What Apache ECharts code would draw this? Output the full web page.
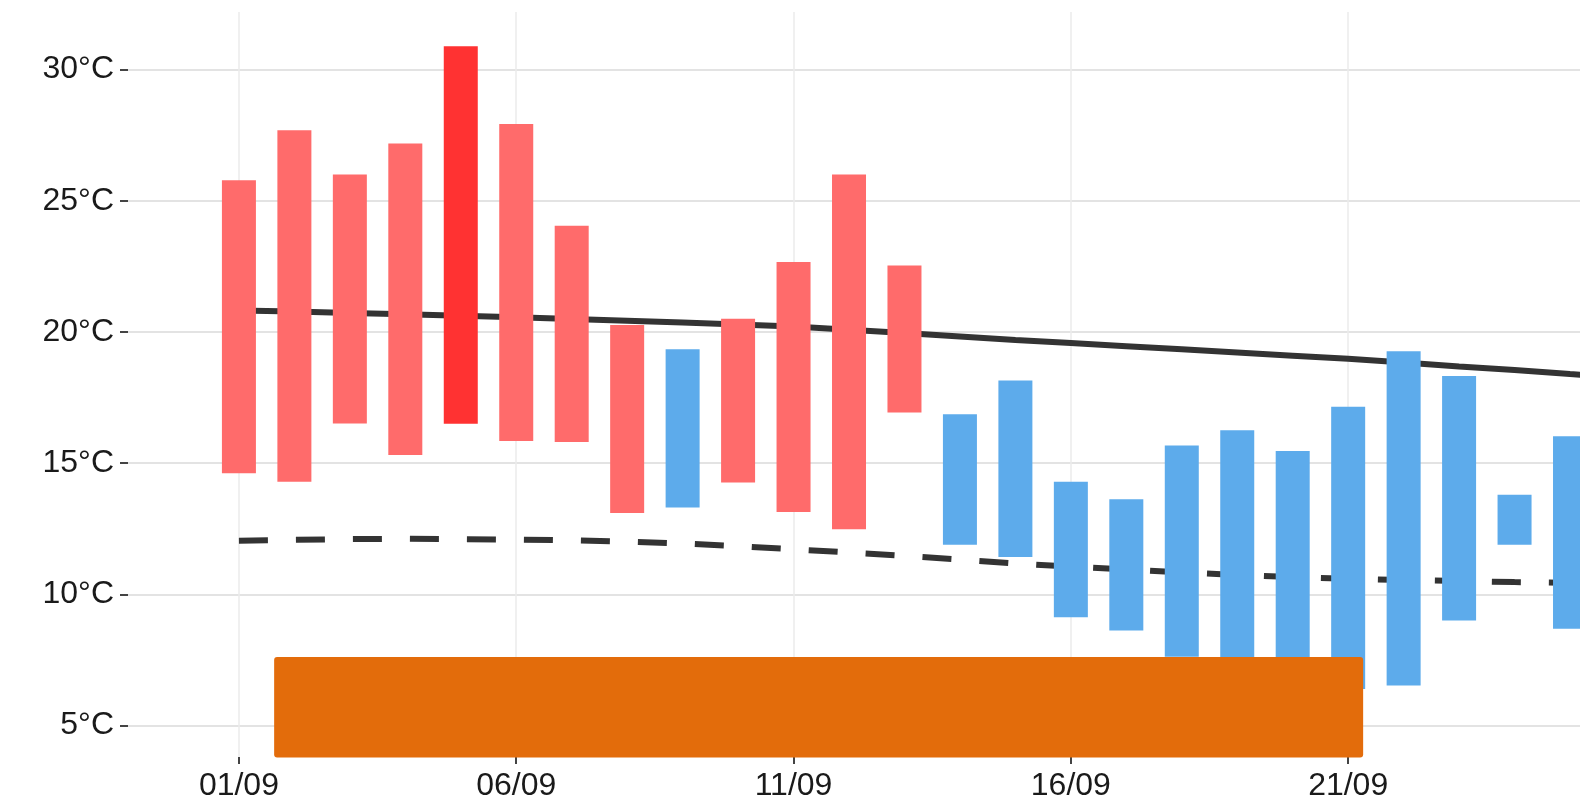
<!DOCTYPE html>
<html>
<head>
<meta charset="utf-8">
<script src="https://cdn.jsdelivr.net/npm/echarts@6/dist/echarts.min.js"></script>
<style>
html,body{margin:0;padding:0;background:#ffffff;}
#chart{width:1580px;height:802px;}
</style>
</head>
<body>
<div id="chart"></div>
<script>
// ---- data ----
const days = [1,2,3,4,5,6,7,8,9,10,11,12,13,14,15,16,17,18,19,20,21,22,23,24,25];
const tMax = [25.78,27.69,26.00,27.18,30.89,27.93,24.05,20.27,19.34,20.51,22.67,26.00,22.54,16.87,18.15,14.29,13.63,15.68,16.26,15.47,17.15,19.27,18.32,13.80,16.03];
const tMin = [14.62,14.29,16.51,15.31,16.50,15.85,15.81,13.10,13.31,14.27,13.14,12.48,16.93,11.89,11.43,9.13,8.63,7.63,6.80,7.00,6.40,6.53,9.01,11.89,8.69];
// 0 = warm, 1 = hottest, 2 = cool
const barType = [0,0,0,0,1,0,0,0,2,0,0,0,0,2,2,2,2,2,2,2,2,2,2,2,2];

const normDays = [1,2,3,4,5,6,7,8,9,10,11,12,13,14,15,16,17,18,19,20,21,22,23,24,25,26];
const normMax = [20.82,20.78,20.73,20.68,20.62,20.56,20.50,20.43,20.36,20.29,20.21,20.09,19.96,19.83,19.70,19.58,19.46,19.34,19.22,19.10,18.98,18.84,18.69,18.55,18.40,18.26];
const normMin = [12.05,12.08,12.11,12.12,12.11,12.09,12.06,12.01,11.94,11.84,11.72,11.60,11.47,11.33,11.18,11.06,10.95,10.84,10.74,10.66,10.60,10.55,10.51,10.47,10.44,10.41];

const xTickDays = [1,6,11,16,21];
const yTicks = [5,10,15,20,25,30];

// overlay box extent in data units (day, °C)
const boxDays = [1.635, 21.27];
const boxTemps = [3.79, 7.62];

// ---- styles ----
const typeColors = ['#ff6b6b', '#ff3232', '#5dabeb'];
const FONT = 'Liberation Sans, Arial, Helvetica, sans-serif';
const BAR_W = 34;

const chart = echarts.init(document.getElementById('chart'), null, {renderer: 'canvas'});

const barData = days.map((d, i) => [d, tMin[i], tMax[i], barType[i]]);

const option = {
  animation: false,
  backgroundColor: '#ffffff',
  grid: {left: 128, right: 0, top: 12, bottom: 44, containLabel: false},
  xAxis: {
    type: 'value',
    min: -1,
    max: 25.18,
    axisLine: {show: false, onZero: false},
    axisTick: {show: true, customValues: xTickDays, length: 7, lineStyle: {color: '#444', width: 2}},
    axisLabel: {
      customValues: xTickDays,
      margin: 13,
      color: '#1a1a1a',
      fontSize: 32,
      fontFamily: FONT,
      formatter: v => (v < 10 ? '0' + v : '' + v) + '/09'
    },
    splitLine: {show: true, lineStyle: {color: '#ebebeb', width: 1.5}}
  },
  yAxis: {
    type: 'value',
    min: 3.805,
    max: 32.196,
    axisLine: {show: false, onZero: false},
    axisTick: {show: true, customValues: yTicks, length: 8, lineStyle: {color: '#444', width: 2}},
    axisLabel: {
      customValues: yTicks,
      margin: 14,
      color: '#1a1a1a',
      fontSize: 32,
      fontFamily: FONT,
      padding: [8, 0, 0, 0],
      formatter: v => v + '°C'
    },
    splitLine: {show: true, lineStyle: {color: '#dadada', width: 1.5}}
  },
  series: [
    {
      name: 'normal max',
      type: 'line',
      data: normDays.map((d, i) => [d, normMax[i]]),
      symbol: 'none',
      z: 1,
      lineStyle: {color: '#333333', width: 6},
      silent: true
    },
    {
      name: 'normal min',
      type: 'line',
      data: normDays.map((d, i) => [d, normMin[i]]),
      symbol: 'none',
      z: 1,
      lineStyle: {color: '#333333', width: 6, type: [29, 28]},
      silent: true
    },
    {
      name: 'range',
      type: 'custom',
      z: 2,
      silent: true,
      clip: true,
      encode: {x: 0, y: [1, 2]},
      data: barData,
      renderItem: function (params, api) {
        const d = api.value(0);
        const lo = api.coord([d, api.value(1)]);
        const hi = api.coord([d, api.value(2)]);
        const rect = echarts.graphic.clipRectByRect({
          x: lo[0] - BAR_W / 2,
          y: hi[1],
          width: BAR_W,
          height: lo[1] - hi[1]
        }, {
          x: params.coordSys.x,
          y: params.coordSys.y,
          width: params.coordSys.width,
          height: params.coordSys.height
        });
        return rect && {
          type: 'rect',
          shape: rect,
          style: {fill: typeColors[api.value(3)]}
        };
      }
    }
  ]
};

chart.setOption(option);

// overlay box positioned through the axes
const p0 = chart.convertToPixel({gridIndex: 0}, [boxDays[0], boxTemps[1]]);
const p1 = chart.convertToPixel({gridIndex: 0}, [boxDays[1], boxTemps[0]]);
chart.setOption({
  graphic: [{
    type: 'rect',
    z: 100,
    silent: true,
    shape: {x: p0[0], y: p0[1], width: p1[0] - p0[0], height: p1[1] - p0[1], r: 3},
    style: {fill: '#e36c0b'}
  }]
});
</script>
</body>
</html>
